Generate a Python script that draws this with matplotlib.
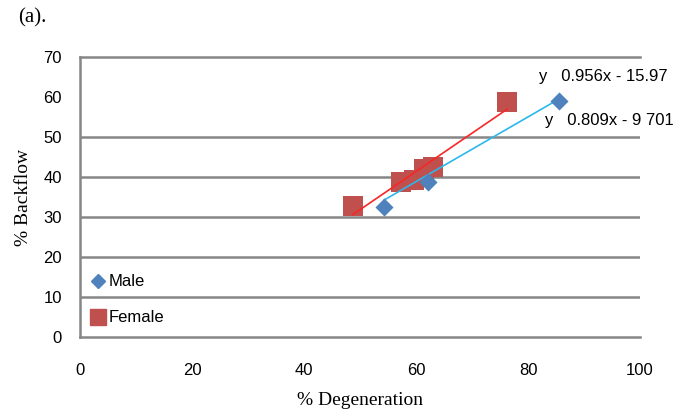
import matplotlib
matplotlib.use("Agg")
import matplotlib.pyplot as plt
import numpy as np
from matplotlib.lines import Line2D

# Data
male_x = [54.3, 62.2, 85.5]
male_y = [32.5, 38.7, 59.0]
female_x = [48.7, 57.3, 59.6, 61.5, 63.0, 76.3]
female_y = [32.7, 38.8, 39.2, 42.0, 42.6, 58.7]
male_fit = (0.809, -9.701)
female_fit = (0.956, -15.97)
male_eq = "y   0.809x - 9 701"
female_eq = "y   0.956x - 15.97"
x_ticks = [0, 20, 40, 60, 80, 100]
y_ticks = [0, 10, 20, 30, 40, 50, 60, 70]
grid_levels = [10, 20, 30, 40, 50]

narrow = ['Liberation Sans', 'DejaVu Sans']
serif = ['Liberation Serif', 'DejaVu Serif']

fig = plt.figure(figsize=(6.97, 4.13), dpi=100)
ax = fig.add_axes([80/697, 1-337/413, 560/697, 280/413])
ax.set_xlim(0, 100)
ax.set_ylim(0, 70)

grid_c = '#868686'
for g in grid_levels:
    ax.axhline(g, color=grid_c, lw=1.8, zorder=1)

for s in ['right']:
    ax.spines[s].set_visible(False)
for s in ['left', 'top', 'bottom']:
    ax.spines[s].set_color(grid_c)
    ax.spines[s].set_linewidth(1.8)

# trendlines
mx = np.array([min(male_x), max(male_x)])
fx = np.array([min(female_x), max(female_x)])
ax.plot(mx, male_fit[0]*mx + male_fit[1], color='#2BB7EE', lw=1.2, zorder=3)
ax.plot(fx, female_fit[0]*fx + female_fit[1], color='#F52727', lw=1.2, zorder=3)

ax.scatter(female_x, female_y, marker='s', s=190, color='#C0504D', zorder=2, linewidths=0)
ax.scatter(male_x, male_y, marker='D', s=85, color='#4F81BD', zorder=4, linewidths=0)

ax.text(82.0, 65, female_eq, fontsize=12, family=narrow, va='center', ha='left', clip_on=False)
ax.text(83.0, 54, male_eq, fontsize=12, family=narrow, va='center', ha='left', clip_on=False)

ax.set_xticks(x_ticks)
ax.set_yticks(y_ticks)
ax.tick_params(length=0)
ax.tick_params(axis='x', pad=19)
ax.tick_params(axis='y', pad=13)
for lab in ax.get_xticklabels() + ax.get_yticklabels():
    lab.set_fontfamily(narrow)
    lab.set_fontsize(12)

ax.set_xlabel('% Degeneration', fontsize=14, family=serif, labelpad=10)
ax.set_ylabel('% Backflow', fontsize=14, family=serif, labelpad=8)

handles = [Line2D([], [], marker='D', color='#4F81BD', ls='none', markersize=7),
           Line2D([], [], marker='s', color='#C0504D', ls='none', markersize=11)]
leg = ax.legend(handles, ['Male', 'Female'], loc='lower left', bbox_to_anchor=(0.0, 0.0),
                frameon=False, handlelength=0.8, handletextpad=0.2, labelspacing=1.25,
                prop={'family': narrow, 'size': 12}, borderaxespad=0.3)

fig.text(18/697, 1-18/413, '(a).', fontsize=15, family=serif, va='center', ha='left')

fig.savefig('out.png', dpi=100)
